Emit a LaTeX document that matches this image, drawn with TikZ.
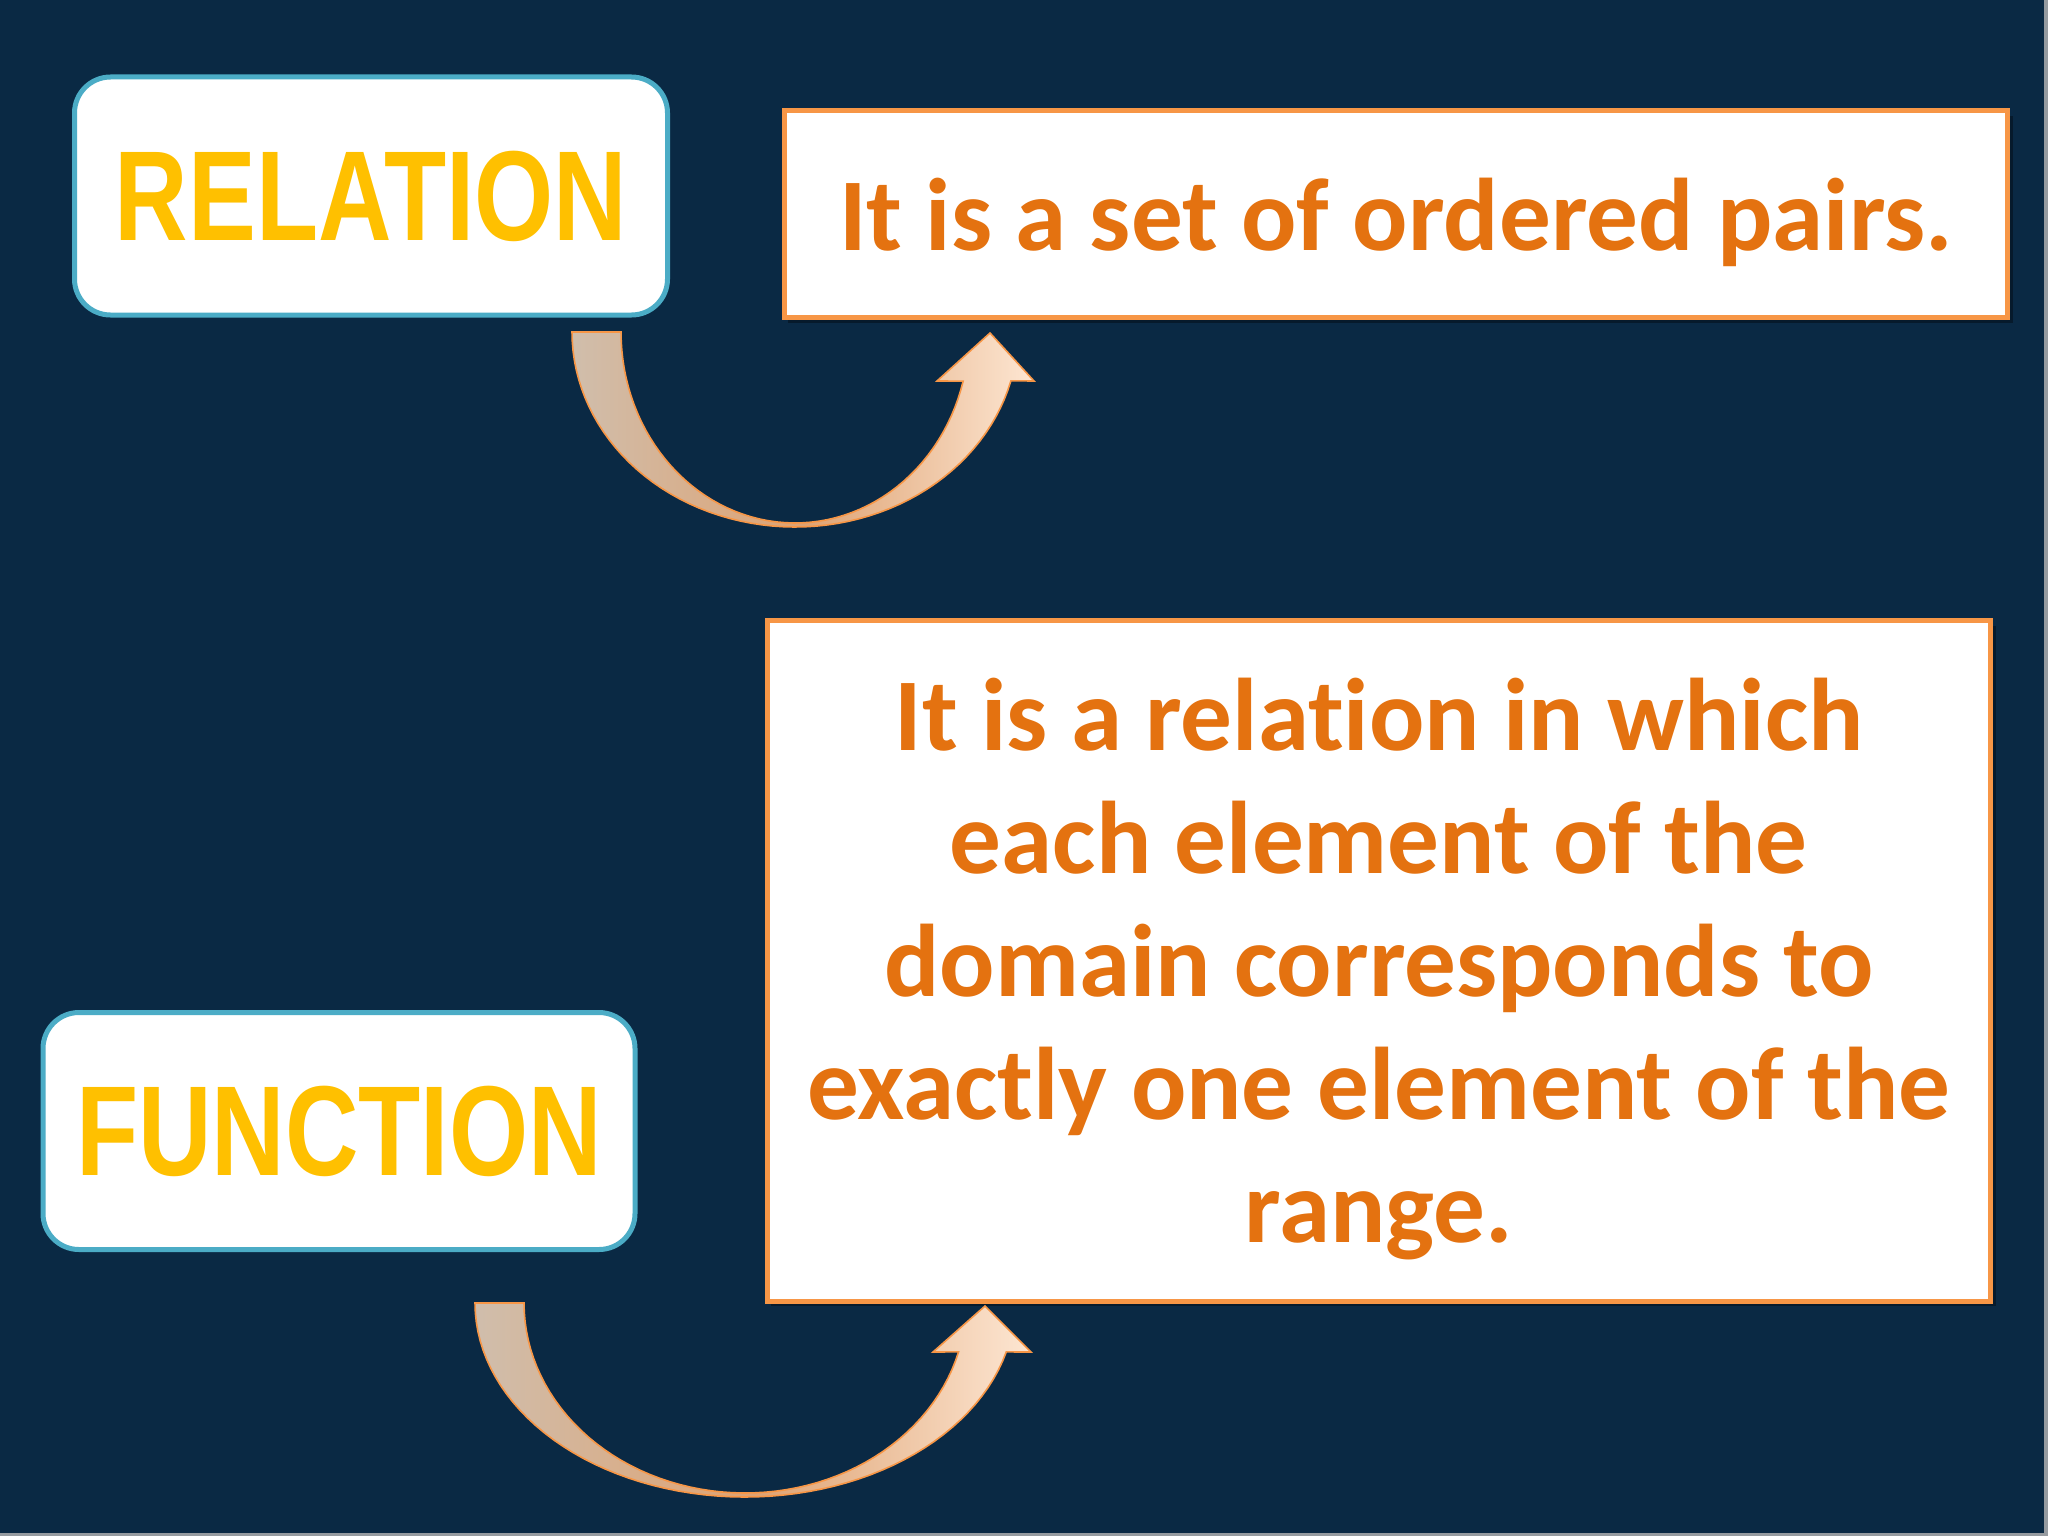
\documentclass[tikz,border=0pt]{standalone}
\usepackage{fontspec}
\setmainfont{Carlito}[Ligatures=NoCommon]
\newfontfamily\headfont[FakeStretch=0.795]{Liberation Sans}
\definecolor{bg}{RGB}{10,41,68}
\definecolor{edgegrey}{RGB}{150,155,160}
\definecolor{tealedge}{RGB}{75,172,198}
\definecolor{boxorange}{RGB}{247,150,70}
\definecolor{gold}{RGB}{255,192,0}
\definecolor{deforange}{RGB}{228,114,16}
\definecolor{arrowL}{RGB}{208,190,172}
\definecolor{arrowM}{RGB}{222,162,114}
\definecolor{arrowR}{RGB}{253,230,210}
\begin{document}
\begin{tikzpicture}[x=0.5pt,y=-0.5pt,
  termbox/.style={draw=tealedge, line width=2.5pt, fill=white, rounded corners=18pt,
    text=gold, inner sep=0pt, font=\headfont\bfseries\fontsize{64}{64}\selectfont},
  defbox/.style={draw=boxorange, line width=2.5pt, fill=white, inner sep=0pt},
  deftext/.style={text=deforange, inner sep=0pt, align=center,
    font=\bfseries\fontsize{51.6}{61.5}\selectfont},
  curvearrow/.style={draw=boxorange, line width=0.8pt, left color=arrowL,
    right color=arrowR, middle color=arrowM},
  boxshadow/.style={fill=black, opacity=0.35}]
\useasboundingbox (0,0) rectangle (2048,1536);
\fill[bg] (0,0) rectangle (2048,1536);
\fill[edgegrey] (2044,0) rectangle (2048,1536);
\fill[edgegrey] (0,1533) rectangle (2048,1536);

% shadows
\fill[boxshadow] (788,116) rectangle (2013,323);
\fill[boxshadow] (771,626) rectangle (1996,1306);

% term boxes
\node[termbox, minimum width=296.5pt, minimum height=119pt] (rel) at (371,196) {RELATION};
\node[termbox, minimum width=296pt, minimum height=118.5pt] (fun) at (339,1131) {FUNCTION};

% definition boxes
\node[defbox, minimum width=611.5pt, minimum height=103.5pt] (reldefbox) at (1396,214) {};
\node[defbox, minimum width=611.25pt, minimum height=340.5pt] (fundefbox) at (1379,960.5) {};

\node[deftext, anchor=base] (reldef) at (1396,250) {It is a set of ordered pairs.};
\node[deftext, anchor=base] (fundef) at (1379,1242) {It is a relation in which\\each element of the\\domain corresponds to\\exactly one element of the\\range.};

% curved arrow: relation -> definition
\path[curvearrow]
  plot[domain=180:14.5, samples=60] ({795+223*cos(\x)},{332+195*sin(\x)})
  -- (1034,381) -- (990,333) -- (937,381)
  -- plot[domain=14.9:180, samples=60] ({795+174*cos(\x)},{332+191*sin(\x)})
  -- cycle;

% curved arrow: function -> definition
\path[curvearrow]
  plot[domain=180:14.6, samples=60] ({745+270*cos(\x)},{1303+194*sin(\x)})
  -- (1031,1352) -- (985,1306) -- (933,1352)
  -- plot[domain=14.9:180, samples=60] ({745+221*cos(\x)},{1303+190*sin(\x)})
  -- cycle;
\end{tikzpicture}
\end{document}
